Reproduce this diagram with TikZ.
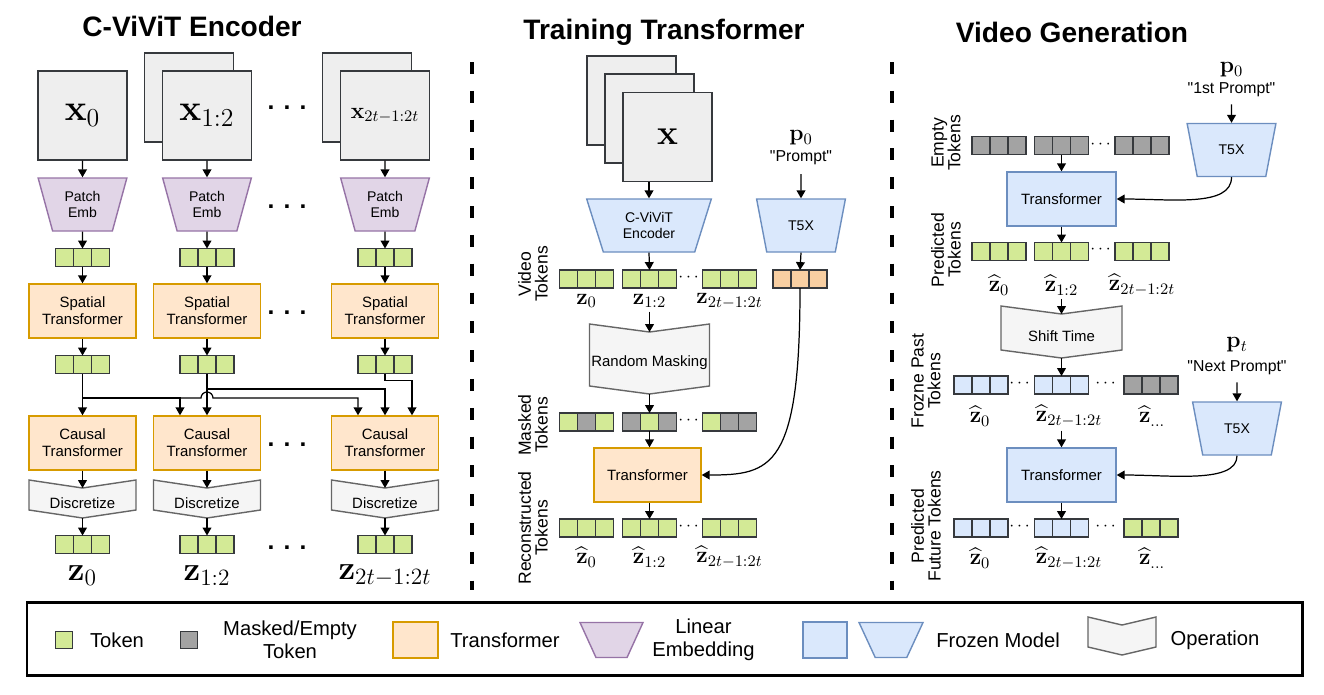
\RequirePackage{fix-cm}
\documentclass[tikz,border=0pt]{standalone}
\usepackage{amsmath,amssymb}
\usepackage[no-math]{fontspec}
\setmainfont{Liberation Sans}[Ligatures=TeXOff]
\usetikzlibrary{arrows.meta,positioning,shapes.geometric,calc,backgrounds}
\definecolor{TokGreen}{HTML}{D3EA96}
\definecolor{TokGray}{HTML}{A3A3A3}
\definecolor{TokBlue}{HTML}{DAE8FC}
\definecolor{TokOrange}{HTML}{F8CFA2}
\definecolor{TokLine}{HTML}{36393D}
\definecolor{TrFill}{HTML}{FFE6CC}
\definecolor{TrLine}{HTML}{D79B00}
\definecolor{EmbFill}{HTML}{E1D5E7}
\definecolor{EmbLine}{HTML}{9673A6}
\definecolor{FrzFill}{HTML}{DAE8FC}
\definecolor{FrzLine}{HTML}{6C8EBF}
\definecolor{OpFill}{HTML}{F5F5F5}
\definecolor{OpLine}{HTML}{666666}
\definecolor{ImgFill}{HTML}{EEEEEE}

\newcommand{\boxfont}{\fontsize{8.5}{9.8}\selectfont}
\newcommand{\smallbox}{\fontsize{8}{9.6}\selectfont}
\newcommand{\sidefont}{\fontsize{10}{9.5}\selectfont}
\newcommand{\legfont}{\fontsize{11.5}{13}\selectfont}
\newcommand{\promptfont}{\fontsize{9}{10}\selectfont}

\tikzset{
  arr/.style={-{Triangle[length=4.5pt,width=5pt]}, line width=0.7pt},
  cell/.style={draw=TokLine, line width=0.85pt, minimum width=0.36cm, minimum height=0.36cm, inner sep=0pt, outer sep=0pt},
  frame/.style={draw=TokLine, fill=ImgFill, line width=0.8pt, minimum size=1.78cm, inner sep=0pt},
  trbox/.style={draw=TrLine, fill=TrFill, line width=0.8pt, minimum width=2.14cm, minimum height=1.08cm, align=center, font=\boxfont},
  frzbox/.style={draw=FrzLine, fill=FrzFill, line width=0.8pt, minimum width=2.18cm, minimum height=1.08cm, align=center, font=\boxfont},
  emb/.style={trapezium, trapezium stretches=true, shape border rotate=180, trapezium angle=72.7, draw=EmbLine, fill=EmbFill, line width=0.8pt, minimum width=1.78cm, minimum height=1.06cm, inner sep=1pt, align=center, font=\smallbox},
  frztrap/.style={trapezium, trapezium stretches=true, shape border rotate=180, trapezium angle=72, draw=FrzLine, fill=FrzFill, line width=0.8pt, minimum width=1.78cm, minimum height=1.06cm, inner sep=1pt, align=center, font=\smallbox},
  op/.style={inner sep=0pt, outer sep=0pt, font=\boxfont},
  opline/.style={draw=OpLine, fill=OpFill, line width=0.8pt},
  title/.style={font=\fontsize{16}{18}\selectfont\bfseries},
  sep/.style={line width=2.3pt, dash pattern=on 6.8pt off 9.6pt},
  side/.style={rotate=90, align=center, font=\sidefont, inner sep=0pt},
  zbig/.style={font=\fontsize{19}{19}\selectfont, inner sep=0pt},
  zmid/.style={font=\fontsize{13}{13}\selectfont, inner sep=0pt},
  bigdots/.style={font=\bfseries\fontsize{14}{14}\selectfont, inner sep=0pt},
  smalldots/.style={font=\fontsize{10}{10}\selectfont, inner sep=0pt},
  legtext/.style={align=center, font=\legfont}
}

% three token cells, the middle one carries the name
\newcommand{\tokrow}[5]{%
  \node[cell, fill=#4] (#1) at (#2) {};
  \node[cell, fill=#3, left=0pt of #1] (#1-l) {};
  \node[cell, fill=#5, right=0pt of #1] (#1-r) {};}

% chevron outline behind an operation node
\newcommand{\opback}[1]{%
  \begin{scope}[on background layer]
    \draw[opline] ($(#1.north west)+(0,-8)$) -- (#1.north) -- ($(#1.north east)+(0,-8)$)
      -- ($(#1.south east)+(0,-8)$) -- (#1.south) -- ($(#1.south west)+(0,-8)$) -- cycle;
  \end{scope}}

\begin{document}
\begin{tikzpicture}[x=0.02cm, y=-0.02cm]
\useasboundingbox (0,0) rectangle (1324,694);

% Titles
\node[title] (ttl1) at (192,26) {C-ViViT Encoder};
\node[title] (ttl2) at (664,32) {Training Transformer};
\node[title] (ttl3) at (1072,32) {Video Generation};

% Separators
\draw[sep] (472,62) -- (472,590);
\draw[sep] (892,62) -- (892,590);

%%% C-ViViT encoder
\node[frame] (img2b) at (189,97.5) {};
\node[frame] (img3b) at (367,97.5) {};
\node[frame] (img1) at (82.5,115.5) {\fontsize{21}{21}\selectfont$\mathbf{x}_0$};
\node[frame] (img2) at (207,115.5) {\fontsize{21}{21}\selectfont$\mathbf{x}_{1:2}$};
\node[frame] (img3) at (385,115.5) {\fontsize{13}{13}\selectfont$\mathbf{x}_{2t-1:2t}$};

\foreach \i/\cx/\lab in {1/82.5/0, 2/207/{1:2}, 3/385/{2t-1:2t}}
{
  \node[emb] (pe\i) at (\cx,204.5) {Patch\\Emb};
  \tokrow{ta\i}{\cx,257.5}{TokGreen}{TokGreen}{TokGreen}
  \node[trbox] (sp\i) at (\cx,311) {Spatial\\Transformer};
  \tokrow{tb\i}{\cx,364.5}{TokGreen}{TokGreen}{TokGreen}
  \node[trbox] (ca\i) at (\cx,443) {Causal\\Transformer};
  \node[op, minimum width=2.14cm, minimum height=0.6cm] (di\i) at (\cx,503) {Discretize};
  \opback{di\i}
  \tokrow{tc\i}{\cx,544.5}{TokGreen}{TokGreen}{TokGreen}
  \node[zbig] (zl\i) at (\cx,576) {$\mathbf{z}_{\lab}$};
  \draw[arr] (img\i.south) -- (pe\i.north);
  \draw[arr] (pe\i.south) -- (ta\i.north);
  \draw[arr] (ta\i.south) -- (sp\i.north);
  \draw[arr] (sp\i.south) -- (tb\i.north);
  \draw[arr] (ca\i.south) -- (di\i.north);
  \draw[arr] (di\i.south) -- (tc\i.north);
}
\foreach \j/\y in {1/108, 2/207, 3/313, 4/445, 5/548}
  \node[bigdots] (dl\j) at (287,\y) {. . .};

% causal links
\coordinate (br1) at (82.5,398);
\coordinate (br2) at (207,389);
\draw[arr] (tb1.south) -- (ca1.north);
\draw[arr] (tb2.south) -- (ca2.north);
\draw[arr] (br1) -| ($(ca2.north)+(-27,0)$);
\draw[arr] (br1) -- ($(br2 |- br1)+(-6,0)$) arc[start angle=180, end angle=360, radius=6]
  -| ($(ca3.north)+(-27,0)$);
\draw[arr] (br2) -| (ca3.north);
\draw[arr] (tb3.south) -- ++(0,7) -| ($(ca3.north)+(27,0)$);

%%% Training transformer
\node[frame] (xb) at (631.5,100.5) {};
\node[frame] (xm) at (649.5,118.5) {};
\node[frame] (xf) at (667.5,137) {\fontsize{20}{20}\selectfont$\mathbf{x}$};
\node[frztrap, minimum width=2.5cm, trapezium angle=71.7] (enc) at (649,225.5) {C-ViViT\\Encoder};
\draw[arr] (xf.south -| enc.north) -- (enc.north);

\node[font=\fontsize{13}{13}\selectfont, inner sep=1pt] (p0m) at (801,138) {$\mathbf{p}_0$};
\node[font=\promptfont, inner sep=1pt] (prm) at (801,158) {"Prompt"};
\node[frztrap] (t5m) at (801,225.5) {T5X};
\draw[arr, shorten <=4pt] (prm.south) -- (t5m.north);

\tokrow{vt1}{586.5,279}{TokGreen}{TokGreen}{TokGreen}
\tokrow{vt2}{649.5,279}{TokGreen}{TokGreen}{TokGreen}
\tokrow{vt3}{729.5,279}{TokGreen}{TokGreen}{TokGreen}
\tokrow{ot}{800,279}{TokOrange}{TokOrange}{TokOrange}
\node[smalldots] (dm1) at (690,278) {$\cdots$};
\draw[arr] (enc.south) -- (vt2.north);
\draw[arr] (t5m.south) -- (ot.north);
\node[zmid] (vz1) at (586.5,301) {$\mathbf{z}_0$};
\node[zmid] (vz2) at (649.5,301) {$\mathbf{z}_{1:2}$};
\node[zmid] (vz3) at (729.5,301) {$\mathbf{z}_{2t-1:2t}$};
\node[side] (sv) at (533,274) {Video\\Tokens};

\node[op, minimum width=2.4cm, minimum height=1.24cm] (rm) at (649.5,363) {Random Masking};
\opback{rm}
\draw[arr, shorten <=2pt] (vz2.south) -- (rm.north);

\tokrow{mt1}{586.5,422}{TokGreen}{TokGray}{TokGreen}
\tokrow{mt2}{649.5,422}{TokGray}{TokGreen}{TokGray}
\tokrow{mt3}{729.5,422}{TokGreen}{TokGray}{TokGray}
\node[smalldots] (dm2) at (690,421) {$\cdots$};
\node[side] (sm) at (533,425) {Masked\\Tokens};
\draw[arr] (rm.south) -- (mt2.north);

\node[trbox] (trm) at (647.5,475) {Transformer};
\draw[arr] (mt2.south) -- (mt2.south |- trm.north);
\draw[arr] (ot.south) .. controls +(0,180) and +(70,0) .. (trm.east);

\tokrow{rt1}{586.5,528}{TokGreen}{TokGreen}{TokGreen}
\tokrow{rt2}{649.5,528}{TokGreen}{TokGreen}{TokGreen}
\tokrow{rt3}{729.5,528}{TokGreen}{TokGreen}{TokGreen}
\node[smalldots] (dm3) at (690,527) {$\cdots$};
\draw[arr] (trm.south -| rt2.north) -- (rt2.north);
\node[zmid] (rz1) at (586.5,557) {$\widehat{\mathbf{z}}_0$};
\node[zmid] (rz2) at (649.5,557) {$\widehat{\mathbf{z}}_{1:2}$};
\node[zmid] (rz3) at (729.5,557) {$\widehat{\mathbf{z}}_{2t-1:2t}$};
\node[side] (sr) at (533,528) {Reconstructed\\Tokens};

%%% Video generation
\node[font=\fontsize{13}{13}\selectfont, inner sep=1pt] (p0r) at (1231.5,70) {$\mathbf{p}_0$};
\node[font=\promptfont, inner sep=1pt] (prr) at (1231.5,90) {"1st Prompt"};
\node[frztrap] (t5r) at (1231.5,150) {T5X};
\draw[arr, shorten <=3pt] (prr.south) -- (t5r.north);

\tokrow{et1}{999,145.5}{TokGray}{TokGray}{TokGray}
\tokrow{et2}{1061.5,145.5}{TokGray}{TokGray}{TokGray}
\tokrow{et3}{1142,145.5}{TokGray}{TokGray}{TokGray}
\node[smalldots] (dr1) at (1102,145) {$\cdots$};
\node[side] (se) at (946,143) {Empty\\Tokens};

\node[frzbox] (tg1) at (1061.5,199) {Transformer};
\draw[arr] (et2.south) -- (tg1.north);
\draw[arr] (t5r.south) .. controls +(0,30) and +(55,0) .. (tg1.east);

\tokrow{pt1}{999,251.5}{TokGreen}{TokGreen}{TokGreen}
\tokrow{pt2}{1061.5,251.5}{TokGreen}{TokGreen}{TokGreen}
\tokrow{pt3}{1142,251.5}{TokGreen}{TokGreen}{TokGreen}
\node[smalldots] (dr2) at (1102,250) {$\cdots$};
\draw[arr] (tg1.south) -- (pt2.north);
\node[zmid] (pz1) at (999,285) {$\widehat{\mathbf{z}}_0$};
\node[zmid] (pz2) at (1061.5,285) {$\widehat{\mathbf{z}}_{1:2}$};
\node[zmid] (pz3) at (1142,285) {$\widehat{\mathbf{z}}_{2t-1:2t}$};
\node[side] (sp) at (946,250) {Predicted\\Tokens};

\node[op, minimum width=2.42cm, minimum height=0.88cm] (st) at (1061.5,336) {Shift Time};
\opback{st}
\draw[arr, shorten <=2pt] (pz2.south) -- (st.north);

\tokrow{ft1}{981,385}{TokBlue}{TokBlue}{TokBlue}
\tokrow{ft2}{1061.5,385}{TokBlue}{TokBlue}{TokBlue}
\tokrow{ft3}{1151,385}{TokGray}{TokGray}{TokGray}
\node[smalldots] (dr3) at (1021,384) {$\cdots$};
\node[smalldots] (dr4) at (1107,384) {$\cdots$};
\draw[arr] (st.south) -- (ft2.north);
\node[zmid] (fz1) at (980,416) {$\widehat{\mathbf{z}}_0$};
\node[zmid] (fz2) at (1069,416) {$\widehat{\mathbf{z}}_{2t-1:2t}$};
\node[zmid] (fz3) at (1152,416) {$\widehat{\mathbf{z}}_{\ldots}$};
\node[side] (sf) at (926,381) {Frozne Past\\Tokens};

\node[font=\fontsize{13}{13}\selectfont, inner sep=1pt] (ptr) at (1237,345) {$\mathbf{p}_t$};
\node[font=\promptfont, inner sep=1pt] (pr2) at (1237,368) {"Next Prompt"};
\node[frztrap] (t5s) at (1237,428.5) {T5X};
\draw[arr, shorten <=3pt] (pr2.south) -- (t5s.north);

\node[frzbox] (tg2) at (1061.5,475) {Transformer};
\draw[arr, shorten <=2pt] (fz2.south -| tg2.north) -- (tg2.north);
\draw[arr] (t5s.south) .. controls +(0,28) and +(55,0) .. (tg2.east);

\tokrow{ut1}{981,528}{TokBlue}{TokBlue}{TokBlue}
\tokrow{ut2}{1061.5,528}{TokBlue}{TokBlue}{TokBlue}
\tokrow{ut3}{1151,528}{TokGreen}{TokGreen}{TokGreen}
\node[smalldots] (dr5) at (1021,527) {$\cdots$};
\node[smalldots] (dr6) at (1107,527) {$\cdots$};
\draw[arr] (tg2.south) -- (ut2.north);
\node[zmid] (uz1) at (980,558) {$\widehat{\mathbf{z}}_0$};
\node[zmid] (uz2) at (1069,558) {$\widehat{\mathbf{z}}_{2t-1:2t}$};
\node[zmid] (uz3) at (1152,558) {$\widehat{\mathbf{z}}_{\ldots}$};
\node[side] (su) at (926,526) {Predicted\\Future Tokens};

%%% Legend
\draw[line width=1.7pt] (27,602) rectangle (1302,675);
\node[cell, fill=TokGreen, minimum size=0.34cm] (lg1) at (64,640) {};
\node[legtext] (lt1) at (117,640) {Token};
\node[cell, fill=TokGray, minimum size=0.34cm] (lg2) at (189,640) {};
\node[legtext] (lt2) at (290,640) {Masked/Empty\\Token};
\node[trbox, minimum width=0.9cm, minimum height=0.72cm] (lg3) at (415.5,640) {};
\node[legtext] (lt3) at (505,640) {Transformer};
\node[emb, minimum width=1.26cm, minimum height=0.7cm, trapezium angle=62.8] (lg4) at (611.5,640) {};
\node[legtext] (lt4) at (703.5,640) {Linear\\Embedding};
\node[frzbox, minimum width=0.88cm, minimum height=0.72cm] (lg5) at (825,640) {};
\node[frztrap, minimum width=1.28cm, minimum height=0.7cm, trapezium angle=62.8] (lg6) at (891,640) {};
\node[legtext] (lt5) at (998,640) {Frozen Model};
\node[op, minimum width=1.36cm, minimum height=0.6cm] (lg7) at (1122,640) {};
\opback{lg7}
\node[legtext] (lt6) at (1215,640) {Operation};
\end{tikzpicture}
\end{document}
